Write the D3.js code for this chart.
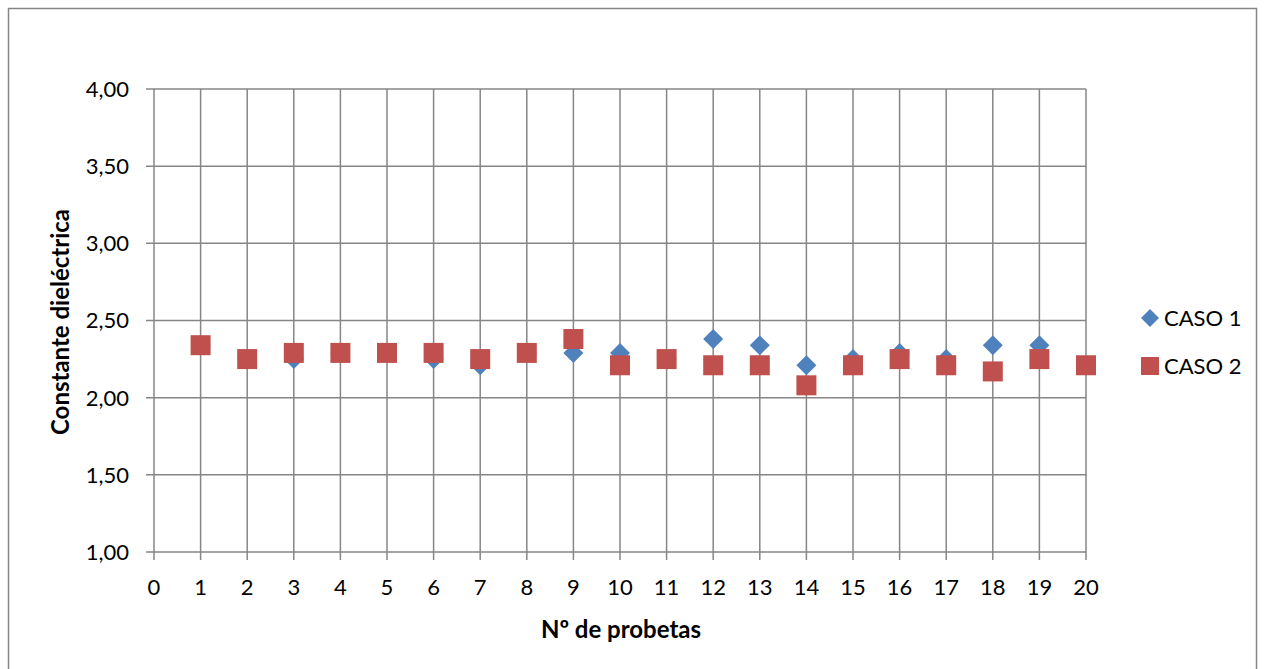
<!DOCTYPE html>
<html><head><meta charset="utf-8">
<script src="https://cdn.jsdelivr.net/npm/d3@7"></script>
<style>body{margin:0;background:#fff;} text{font-family:Lato,"Open Sans",sans-serif;}</style>
</head><body><svg id="c" width="1265" height="669"></svg>
<script>
const probetas = [1,2,3,4,5,6,7,8,9,10,11,12,13,14,15,16,17,18,19,20];
const caso1 = [2.34,2.25,2.25,2.29,2.29,2.25,2.21,2.29,2.29,2.29,2.25,2.38,2.34,2.21,2.25,2.29,2.25,2.34,2.34,2.21];
const caso2 = [2.34,2.25,2.29,2.29,2.29,2.29,2.25,2.29,2.38,2.21,2.25,2.21,2.21,2.08,2.21,2.25,2.21,2.17,2.25,2.21];
const xTicks = d3.range(0,21,1);
const yTicks = [1,1.5,2,2.5,3,3.5,4];
const seriesNames = ["CASO 1","CASO 2"];
const colors = ["#4F81BD","#C0504D"];

const svg = d3.select("#c");
svg.append("rect").attr("x",8.5).attr("y",8.5).attr("width",1248).attr("height",680)
  .attr("fill","#fff").attr("stroke","#868686").attr("stroke-width",1.5);

const x = d3.scaleLinear().domain([0,20]).range([154,1086]);
const y = d3.scaleLinear().domain([1,4]).range([552,89]);
const grid = "#868686";

const g = svg.append("g");
g.selectAll(".hg").data(yTicks).enter().append("line")
  .attr("x1",146).attr("x2",1086).attr("y1",d=>y(d)).attr("y2",d=>y(d))
  .attr("stroke",grid).attr("stroke-width",1.5);
g.selectAll(".vg").data(xTicks).enter().append("line")
  .attr("x1",d=>x(d)).attr("x2",d=>x(d)).attr("y1",89).attr("y2",560)
  .attr("stroke",grid).attr("stroke-width",1.5);

g.selectAll(".yl").data(yTicks).enter().append("text")
  .attr("x",129).attr("y",d=>y(d)).attr("dy","0.36em").attr("text-anchor","end")
  .attr("font-size",22).attr("fill","#000")
  .text(d=>d3.format(".2f")(d).replace(".",","));
g.selectAll(".xl").data(xTicks).enter().append("text")
  .attr("x",d=>x(d)).attr("y",587).attr("dy","0.36em").attr("text-anchor","middle")
  .attr("font-size",22).attr("fill","#000").text(d=>d);

svg.append("text").attr("transform","translate(69,322) rotate(-90)").attr("text-anchor","middle")
  .attr("font-size",24).attr("font-weight","bold").text("Constante dieléctrica");
svg.append("text").attr("x",621).attr("y",638).attr("text-anchor","middle")
  .attr("font-size",24).attr("font-weight","bold").text("Nº de probetas");

function diamondPath(s){ return `M0,${-s}L${s},0L0,${s}L${-s},0Z`; }

g.selectAll(".c1").data(probetas).enter().append("path")
  .attr("transform",(d,i)=>`translate(${x(d)},${y(caso1[i])})`)
  .attr("d",diamondPath(10)).attr("fill",colors[0]);
g.selectAll(".c2").data(probetas).enter().append("rect")
  .attr("x",d=>x(d)-10).attr("y",(d,i)=>y(caso2[i])-10).attr("width",20).attr("height",20)
  .attr("fill",colors[1]);

const leg = svg.append("g");
leg.append("path").attr("transform","translate(1150,318)").attr("d",diamondPath(9)).attr("fill",colors[0]);
leg.append("rect").attr("x",1141).attr("y",357).attr("width",18).attr("height",18).attr("fill",colors[1]);
leg.selectAll("text").data(seriesNames).enter().append("text")
  .attr("x",1164).attr("y",(d,i)=>318+i*48).attr("dy","0.36em")
  .attr("font-size",22).text(d=>d);
</script></body></html>
